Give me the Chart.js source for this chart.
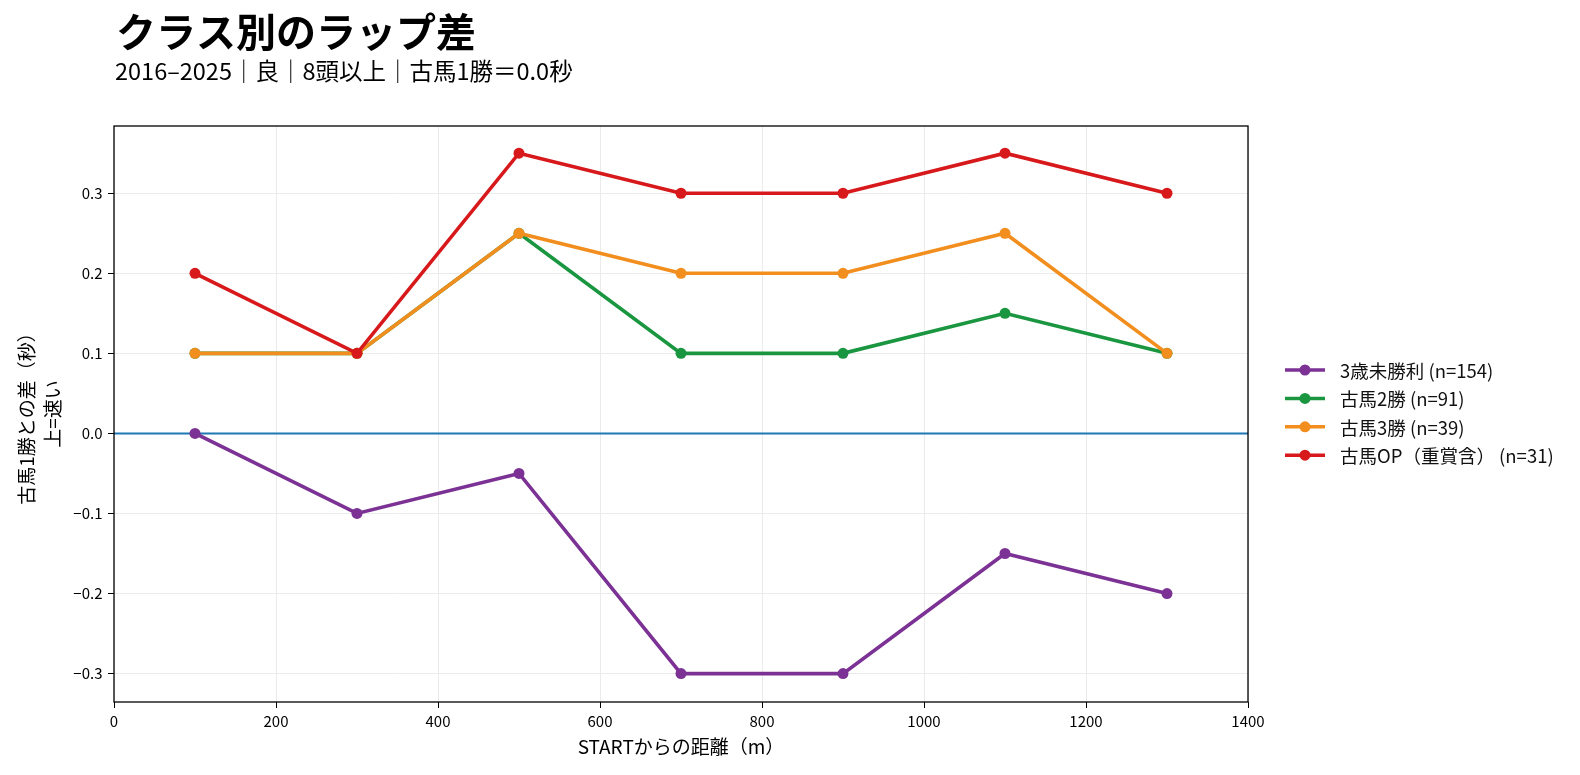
<!DOCTYPE html>
<html>
<head>
<meta charset="utf-8">
<script src="https://cdn.jsdelivr.net/npm/chart.js@4"></script>
<style>
  html, body { margin: 0; padding: 0; background: #fff; overflow: hidden; }
  #wrap { position: relative; width: 1580px; height: 775px; }
  canvas { display: block; }
</style>
</head>
<body>
<div id="wrap"><canvas id="chart-lap" width="1580" height="775"></canvas></div>
<script>
// distances from START (m)
const distances = [100, 300, 500, 700, 900, 1100, 1300];

// lap difference vs 古馬1勝 (sec), positive = faster
const mishouri = [0.0, -0.1, -0.05, -0.3, -0.3, -0.15, -0.2];
const koba2 = [0.1, 0.1, 0.25, 0.1, 0.1, 0.15, 0.1];
const koba3 = [0.1, 0.1, 0.25, 0.2, 0.2, 0.25, 0.1];
const kobaOP = [0.2, 0.1, 0.35, 0.3, 0.3, 0.35, 0.3];

const seriesNames = ['3歳未勝利 (n=154)', '古馬2勝 (n=91)', '古馬3勝 (n=39)', '古馬OP（重賞含） (n=31)'];
const seriesColors = ['#7b3294', '#1a9641', '#f28e1e', '#d7191c'];

const FONT = '"Noto Sans CJK JP", "Noto Sans", sans-serif';

const toPoints = arr => arr.map((v, i) => ({ x: distances[i], y: v }));
const allSeries = [mishouri, koba2, koba3, kobaOP];

// --- plugins: frame, zero line, titles, legend ---
const extras = {
    id: 'extras',
    beforeDatasetsDraw(chart) {
        const { ctx, chartArea: a, scales } = chart;
        const y0 = scales.y.getPixelForValue(0);
        ctx.save();
        ctx.strokeStyle = '#1f77b4';
        ctx.lineWidth = 2;
        ctx.beginPath();
        ctx.moveTo(a.left, y0);
        ctx.lineTo(a.right, y0);
        ctx.stroke();
        ctx.restore();
    },
    afterDraw(chart) {
        const { ctx, chartArea: a } = chart;
        ctx.save();
        // frame
        ctx.strokeStyle = '#000';
        ctx.lineWidth = 1.3;
        ctx.strokeRect(a.left, a.top, a.right - a.left, a.bottom - a.top);

        // title + subtitle
        ctx.fillStyle = '#000';
        ctx.textAlign = 'left';
        ctx.textBaseline = 'alphabetic';
        ctx.font = 'bold 40px ' + FONT;
        ctx.fillText('クラス別のラップ差', a.left + 2, 47);
        ctx.font = '23.5px ' + FONT;
        ctx.fillText('2016–2025｜良｜8頭以上｜古馬1勝＝0.0秒', a.left + 1, 80);

        // legend
        ctx.font = '18.5px ' + FONT;
        ctx.textBaseline = 'middle';
        seriesNames.forEach((name, i) => {
            const ly = 370 + i * 28.4;
            const lx = a.right + 37;
            ctx.strokeStyle = seriesColors[i];
            ctx.lineWidth = 3.5;
            ctx.beginPath();
            ctx.moveTo(lx, ly);
            ctx.lineTo(lx + 40, ly);
            ctx.stroke();
            ctx.fillStyle = seriesColors[i];
            ctx.beginPath();
            ctx.arc(lx + 20, ly, 5.5, 0, Math.PI * 2);
            ctx.fill();
            ctx.fillStyle = '#111';
            ctx.fillText(name, lx + 55, ly + 1);
        });
        ctx.restore();
    }
};

new Chart(document.getElementById('chart-lap'), {
    type: 'line',
    data: {
        datasets: allSeries.map((s, i) => ({
            label: seriesNames[i],
            data: toPoints(s),
            borderColor: seriesColors[i],
            backgroundColor: seriesColors[i],
            borderWidth: 3.6,
            pointRadius: 5.5,
            pointHoverRadius: 5.5,
            pointBorderWidth: 0,
            tension: 0,
            fill: false,
            order: allSeries.length - i   // later series on top
        }))
    },
    options: {
        responsive: false,
        animation: false,
        events: [],
        layout: { padding: { left: 0, top: 126, right: 332, bottom: 0 } },
        plugins: { legend: { display: false }, tooltip: { enabled: false } },
        scales: {
            x: {
                type: 'linear',
                min: 0, max: 1400,
                afterFit: s => { s.height = 73; },
                ticks: {
                    stepSize: 200, color: '#000', font: { family: FONT, size: 15 }, padding: 4, maxRotation: 0,
                    callback: v => String(v)
                },
                grid: { color: '#ebebeb', tickColor: '#000', tickLength: 6, lineWidth: 1 },
                border: { display: false },
                title: { display: true, text: 'STARTからの距離（m）', color: '#000', font: { family: FONT, size: 19 }, padding: { top: 0, bottom: 17 } }
            },
            y: {
                type: 'linear',
                min: -0.3355, max: 0.384,
                afterFit: s => { s.width = 114; },
                ticks: {
                    stepSize: 0.1,
                    includeBounds: false,
                    color: '#000',
                    font: { family: FONT, size: 15 },
                    padding: 5.5,
                    callback: v => Math.abs(v) < 1e-9 ? '0.0' : (v < 0 ? '−' : '') + Math.abs(v).toFixed(1)
                },
                grid: { color: '#ebebeb', tickColor: '#000', tickLength: 6, lineWidth: 1 },
                border: { display: false },
                title: { display: true, text: ['古馬1勝との差（秒）', '上=速い'], color: '#000', font: { family: FONT, size: 19, lineHeight: 1.4 }, padding: { top: 13, bottom: 0 } }
            }
        }
    },
    plugins: [extras]
});
</script>
</body>
</html>
